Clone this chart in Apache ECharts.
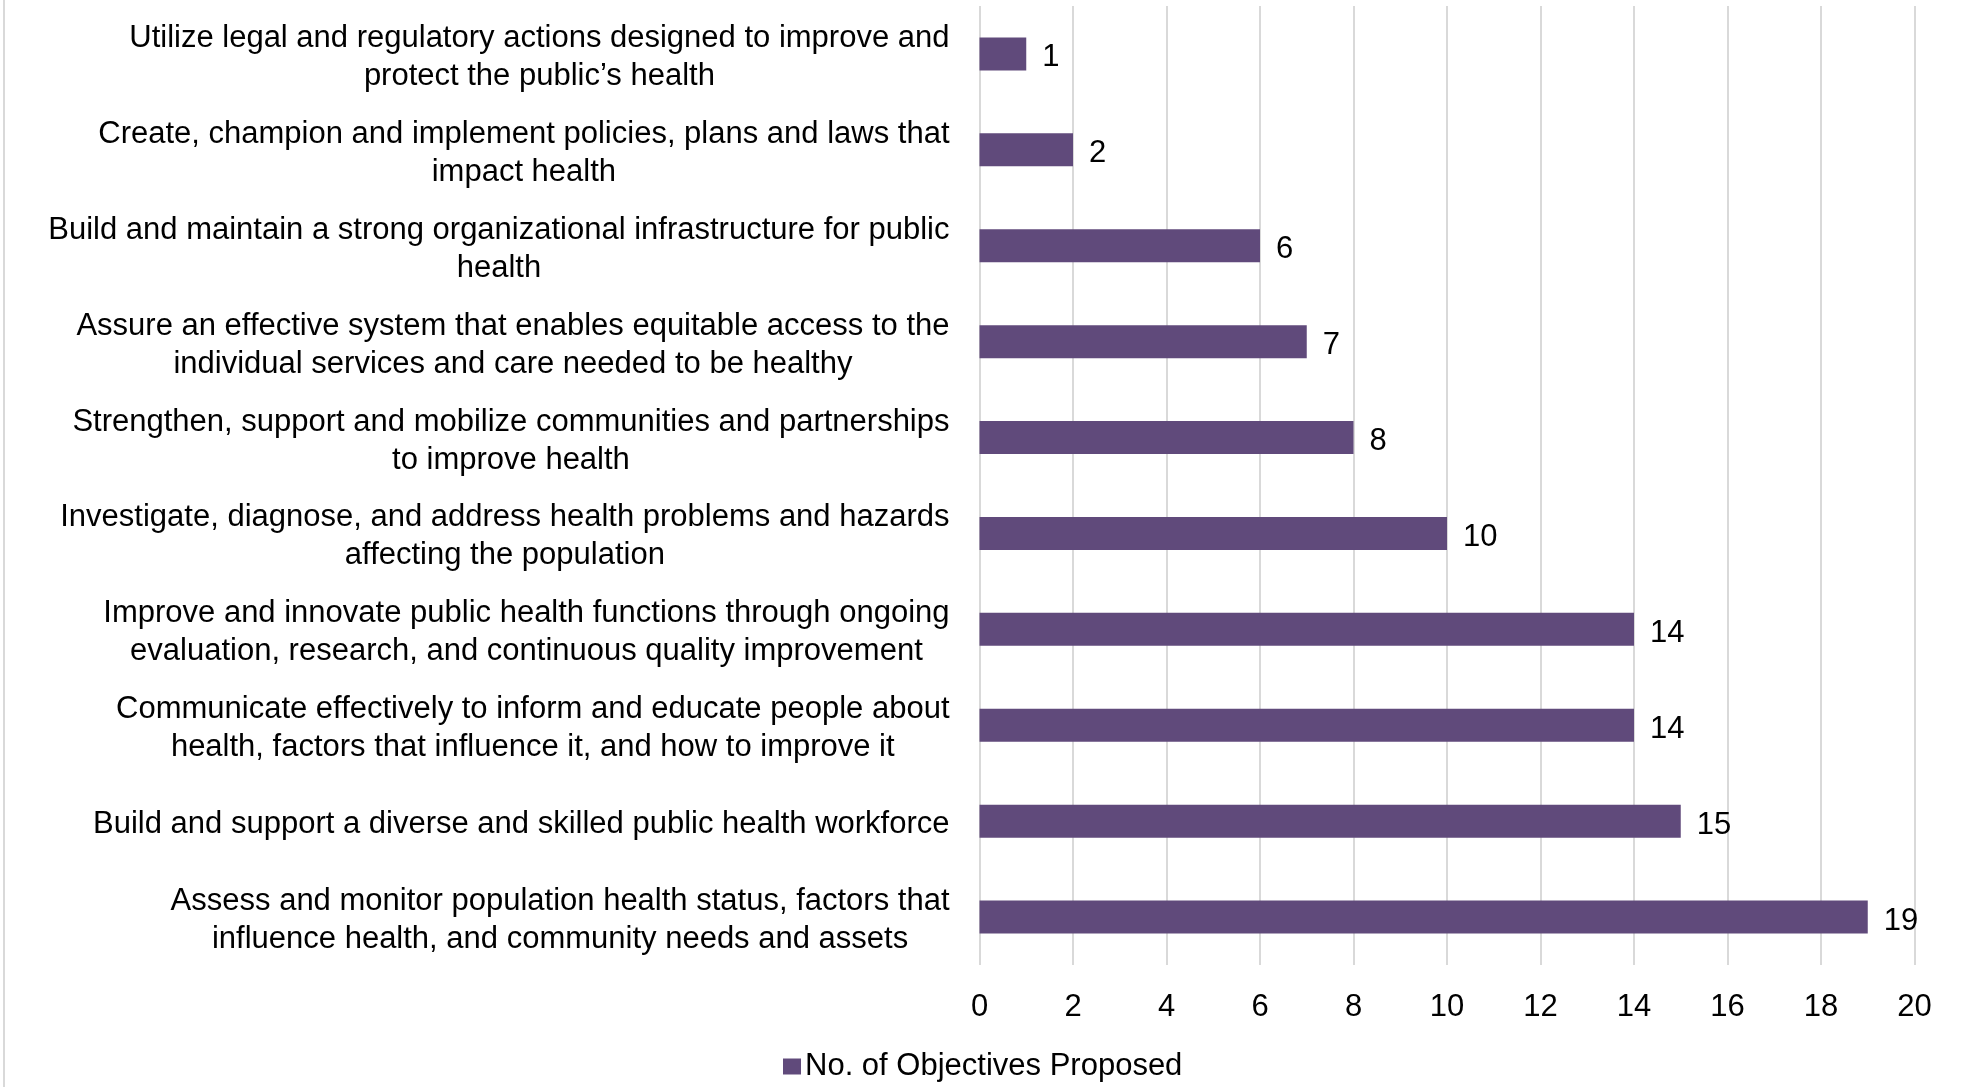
<!DOCTYPE html>
<html>
<head>
<meta charset="utf-8">
<script src="https://cdn.jsdelivr.net/npm/echarts@6/dist/echarts.min.js"></script>
<style>
  html, body { margin: 0; padding: 0; background: #ffffff; }
  #chart { width: 1961px; height: 1087px; }
</style>
</head>
<body>
<div id="chart"></div>
<script>
// Essential public health services, listed top to bottom
const services = [
  'Utilize legal and regulatory actions designed to improve and\nprotect the public\u2019s health',
  'Create, champion and implement policies, plans and laws that\nimpact health',
  'Build and maintain a strong organizational infrastructure for public\nhealth',
  'Assure an effective system that enables equitable access to the\nindividual services and care needed to be healthy',
  'Strengthen, support and mobilize communities and partnerships\nto improve health',
  'Investigate, diagnose, and address health problems and hazards\naffecting the population',
  'Improve and innovate public health functions through ongoing\nevaluation, research, and continuous quality improvement',
  'Communicate effectively to inform and educate people about\nhealth, factors that influence it, and how to improve it',
  'Build and support a diverse and skilled public health workforce',
  'Assess and monitor population health status, factors that\ninfluence health, and community needs and assets'
];
const objectivesProposed = [1, 2, 6, 7, 8, 10, 14, 14, 15, 19];
const seriesName = 'No. of Objectives Proposed';

const FONT = '"Liberation Sans", Arial, sans-serif';
const FS = 31;
const chart = echarts.init(document.getElementById('chart'));
chart.setOption({
  animation: false,
  backgroundColor: '#ffffff',
  textStyle: { fontFamily: FONT },
  grid: { left: 979.5, right: 46.5, top: 6, bottom: 122, containLabel: false },
  legend: {
    data: [seriesName],
    left: 778,
    top: 1046,
    icon: 'rect',
    itemWidth: 18,
    itemHeight: 16,
    itemGap: 10,
    textStyle: { fontSize: FS, color: '#000000', fontFamily: FONT, padding: [0, 0, 0, -1] }
  },
  xAxis: {
    type: 'value',
    min: 0,
    max: 20,
    interval: 2,
    axisLine: { show: false },
    axisTick: { show: false },
    splitLine: { show: true, lineStyle: { color: '#d9d9d9', width: 2 } },
    axisLabel: { color: '#000000', fontSize: FS, margin: 27, fontFamily: FONT }
  },
  yAxis: {
    type: 'category',
    inverse: true,
    data: services,
    axisLine: { show: false },
    axisTick: { show: false },
    axisLabel: {
      color: '#000000',
      fontSize: FS,
      lineHeight: 38,
      margin: 30,
      align: 'right',
      padding: [7, 0, 0, 0],
      fontFamily: FONT,
      formatter: function (v) {
        return v.split('\n').map(function (line) { return '{c|' + line + '}'; }).join('\n');
      },
      rich: {
        c: { align: 'center', fontSize: FS, lineHeight: 38, color: '#000000', fontFamily: FONT }
      }
    }
  },
  series: [{
    name: seriesName,
    type: 'bar',
    data: objectivesProposed,
    barWidth: 33,
    itemStyle: { color: '#604a7b' },
    label: {
      show: true,
      position: 'right',
      distance: 16,
      offset: [0, 4],
      color: '#000000',
      fontSize: FS,
      fontFamily: FONT
    }
  }],
  graphic: [{
    type: 'line',
    shape: { x1: 4, y1: 0, x2: 4, y2: 1087 },
    style: { stroke: '#d9d9d9', lineWidth: 2 }
  }]
});
</script>
</body>
</html>
